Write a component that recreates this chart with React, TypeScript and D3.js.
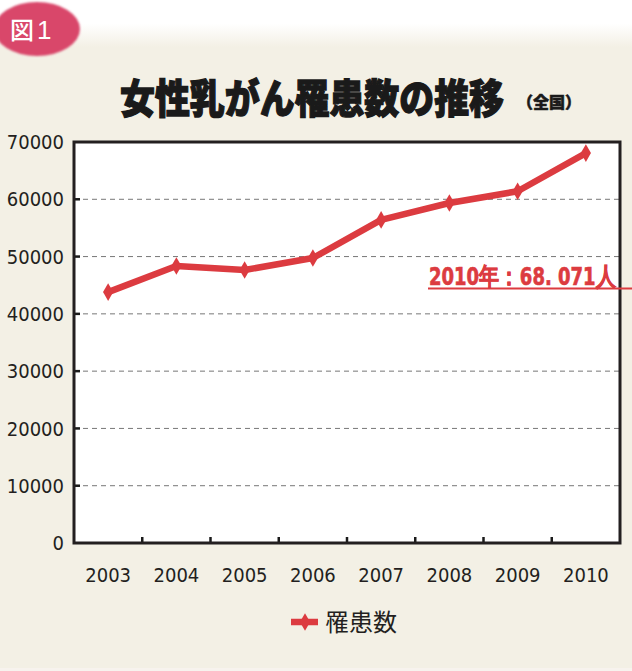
import React, { useEffect } from "react";
import * as d3 from "d3";

const years = ["2003", "2004", "2005", "2006", "2007", "2008", "2009", "2010"];
const cases = [43800, 48350, 47650, 49750, 56400, 59350, 61400, 68071];
const yTicks = [0, 10000, 20000, 30000, 40000, 50000, 60000, 70000];
const title = "女性乳がん罹患数の推移";
const subTitle = "（全国）";
const seriesName = "罹患数";
const annotation = "2010年：68. 071人";
const badge = "図";
const badgeNum = "1";

const W = 632;
const H = 671;
const plot = { left: 74, right: 620, top: 142, bottom: 543 };
const RED = "#dc3b40";
const NUM_FONT = "'Liberation Sans Narrow', 'DejaVu Sans Condensed', 'Roboto', sans-serif";
const JP_FONT = "'Noto Sans CJK JP', 'Noto Sans', sans-serif";

export default function App() {
  useEffect(() => {
    document.body.style.margin = "0";
  }, []);

  const x = d3.scaleBand<string>().domain(years).range([plot.left, plot.right]).padding(0);
  const y = d3.scaleLinear().domain([0, 70000]).range([plot.bottom, plot.top]);
  const cx = (yr: string) => (x(yr) as number) + x.bandwidth() / 2;

  const line = d3
    .line<number>()
    .x((_, i) => cx(years[i]))
    .y((d) => y(d));

  const diamond = d3.symbol().type(d3.symbolDiamond).size(90)() as string;

  return (
    <svg width={W} height={H} style={{ display: "block" }}>
      <defs>
        <linearGradient id="bgGrad" x1="0" y1="0" x2="0" y2="1">
          <stop offset="0" stopColor="#ffffff" />
          <stop offset="0.035" stopColor="#ffffff" />
          <stop offset="0.07" stopColor="#f3f0e5" />
          <stop offset="1" stopColor="#f3f0e5" />
        </linearGradient>
        <filter id="blur1" x="-20%" y="-20%" width="140%" height="140%">
          <feGaussianBlur stdDeviation="1.2" />
        </filter>
      </defs>
      <rect x={0} y={0} width={W} height={H} fill="url(#bgGrad)" />
      <rect x={0} y={668} width={W} height={3} fill="#f7f3ee" />

      {/* badge */}
      <ellipse cx={37} cy={29} rx={43} ry={27} fill="#d9476b" filter="url(#blur1)" />
      <text x={10} y={39} fill="#ffffff" fontFamily={JP_FONT} fontWeight={500} fontSize={24}>
        {badge}
      </text>
      <text x={37} y={39} fill="#ffffff" fontFamily="'Liberation Sans', sans-serif" fontSize={26}>
        {badgeNum}
      </text>

      {/* title */}
      <text
        transform="translate(120,113) scale(1,1.18)"
        x={0}
        y={0}
        fill="#1a1a1a"
        stroke="#1a1a1a"
        strokeWidth={1.1}
        fontFamily={JP_FONT}
        fontWeight={900}
        fontSize={34}
        textLength={384}
        lengthAdjust="spacingAndGlyphs"
      >
        {title}
      </text>
      <text
        x={517}
        y={108}
        fill="#1a1a1a"
        stroke="#1a1a1a"
        strokeWidth={0.5}
        fontFamily={JP_FONT}
        fontWeight={900}
        fontSize={16}
        textLength={64}
        lengthAdjust="spacingAndGlyphs"
      >
        {subTitle}
      </text>

      {/* plot area */}
      <rect
        x={plot.left}
        y={plot.top}
        width={plot.right - plot.left}
        height={plot.bottom - plot.top}
        fill="#ffffff"
      />

      {/* grid */}
      {yTicks
        .filter((t) => t > 0 && t < 70000)
        .map((t) => (
          <line
            key={"g" + t}
            x1={plot.left}
            x2={plot.right}
            y1={y(t)}
            y2={y(t)}
            stroke="#777"
            strokeWidth={1}
            strokeDasharray="5,4"
          />
        ))}

      {/* y ticks */}
      {yTicks.map((t) => (
        <g key={"yt" + t}>
          {t > 0 && t < 70000 && (
            <line x1={plot.left} x2={plot.left + 6} y1={y(t)} y2={y(t)} stroke="#1a1a1a" strokeWidth={2.5} />
          )}
          <text
            x={64}
            y={y(t)}
            dy="0.36em"
            textAnchor="end"
            fill="#231f20"
            fontFamily={NUM_FONT}
            fontSize={20}
          >
            {t}
          </text>
        </g>
      ))}

      {/* x ticks at boundaries */}
      {years.slice(1).map((yr) => (
        <line
          key={"xt" + yr}
          x1={x(yr) as number}
          x2={x(yr) as number}
          y1={plot.bottom}
          y2={plot.bottom - 6}
          stroke="#1a1a1a"
          strokeWidth={2.5}
        />
      ))}
      {years.map((yr) => (
        <text
          key={"xl" + yr}
          x={cx(yr)}
          y={582}
          textAnchor="middle"
          fill="#231f20"
          fontFamily={NUM_FONT}
          fontSize={20}
        >
          {yr}
        </text>
      ))}

      {/* frame */}
      <rect
        x={plot.left}
        y={plot.top}
        width={plot.right - plot.left}
        height={plot.bottom - plot.top}
        fill="none"
        stroke="#231f20"
        strokeWidth={3}
      />

      {/* series */}
      <path d={line(cases) as string} fill="none" stroke={RED} strokeWidth={6.5} strokeLinejoin="round" />
      {cases.map((v, i) => (
        <path key={"m" + i} d={diamond} transform={`translate(${cx(years[i])},${y(v)})`} fill={RED} />
      ))}

      {/* annotation */}
      <text
        transform="translate(429,285) scale(1,1.25)"
        x={0}
        y={0}
        fill={RED}
        stroke={RED}
        strokeWidth={0.5}
        fontFamily={NUM_FONT}
        fontWeight={700}
        fontSize={20}
        textLength={187}
        lengthAdjust="spacingAndGlyphs"
      >
        {annotation}
      </text>
      <line x1={428} x2={632} y1={288.5} y2={288.5} stroke={RED} strokeWidth={2} />

      {/* legend */}
      <line x1={291} x2={318} y1={622} y2={622} stroke={RED} strokeWidth={6.5} />
      <path d={diamond} transform="translate(305,622)" fill={RED} />
      <text x={325} y={631} fill="#231f20" fontFamily={JP_FONT} fontSize={24}>
        {seriesName}
      </text>
    </svg>
  );
}
